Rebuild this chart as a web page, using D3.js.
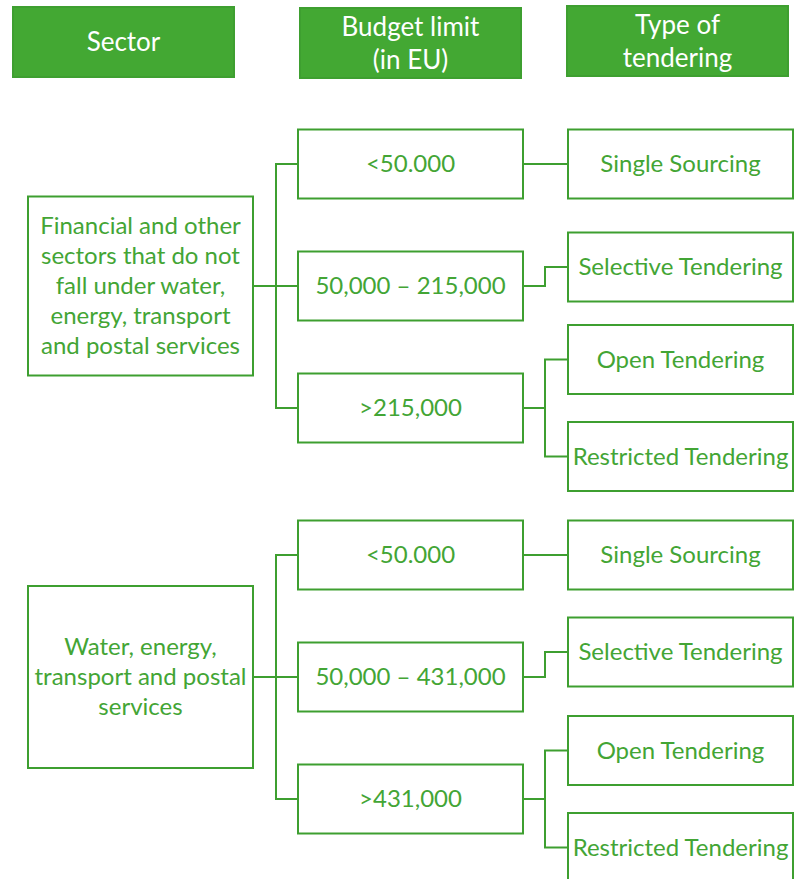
<!DOCTYPE html>
<html lang="en">
<head>
<meta charset="UTF-8">
<script src="https://cdn.jsdelivr.net/npm/d3@7"></script>
<style>
    body, html { margin: 0; padding: 0; background: #fff; }
</style>
</head>
<body>
<div id="chart"></div>
<script>
// data
const headers = [["Sector"], ["Budget limit", "(in EU)"], ["Type of", "tendering"]]
const sectors = [
    ["Financial and other", "sectors that do not", "fall under water,", "energy, transport", "and postal services"],
    ["Water, energy,", "transport and postal", "services"]
]
const budgets = [
    ["<50.000", "50,000 \u2013 215,000", ">215,000"],
    ["<50.000", "50,000 \u2013 431,000", ">431,000"]
]
const tenders = [
    [["Single Sourcing"], ["Selective  Tendering"], ["Open Tendering", "Restricted Tendering"]],
    [["Single Sourcing"], ["Selective  Tendering"], ["Open Tendering", "Restricted Tendering"]]
]

const W = 796, H = 879
const green = "#43a535", stroke = "#3e9f30"
const boxW = 225, boxH = 69, rowGap = 122, typeGap = 97

const svg = d3.select("#chart").append("svg").attr("width", W).attr("height", H)

// columns
const x = d3.scaleOrdinal().domain([0, 1, 2]).range([28, 298, 568])
const hx = d3.scaleOrdinal().domain([0, 1, 2]).range([13, 300, 567])
// section / row placement
const sectionY = d3.scaleLinear().domain([0, 1]).range([164, 555])
const rowY = (s, k) => sectionY(s) + k * rowGap
const nudge = [0, -19, 0]

const font = "Lato, 'Open Sans', sans-serif"

function box(g, x0, cy, h, lines, opt) {
    g.append("rect").attr("x", x0).attr("y", cy - h / 2).attr("width", opt.w || boxW).attr("height", h)
        .attr("fill", opt.fill || "#fff").attr("stroke", stroke).attr("stroke-width", 2)
    const lh = opt.lh || 30
    g.append("text").attr("text-anchor", "middle").attr("font-family", font)
        .attr("font-size", opt.size || 24).attr("fill", opt.color || green)
        .selectAll("tspan").data(lines).enter().append("tspan")
        .attr("x", x0 + (opt.w || boxW) / 2)
        .attr("y", (d, i) => cy + (i - (lines.length - 1) / 2) * lh)
        .attr("dy", "0.35em").text(d => d)
}

// headers
const hg = svg.append("g")
headers.forEach((lines, i) => {
    box(hg, hx(i), [42, 43, 41][i], 70, lines, { w: 221, fill: "#43a833", color: "#fff", size: 26, lh: 33 })
})

// connectors
const lg = svg.append("g").attr("fill", "none").attr("stroke", stroke).attr("stroke-width", 2)
const elbow = (x1, y1, xm, y2, x2) => `M${x1},${y1}H${xm}V${y2}H${x2}`

sectors.forEach((lines, s) => {
    const g = svg.append("g")
    const midY = rowY(s, 1)
    box(g, x(0), midY, s === 0 ? 179 : 182, lines, { lh: 30 })
    budgets[s].forEach((b, k) => {
        const cy = rowY(s, k)
        lg.append("path").attr("d", elbow(x(0) + boxW, midY, 276, cy, x(1)))
        box(g, x(1), cy, boxH, [b], {})
        const kids = tenders[s][k]
        kids.forEach((t, j) => {
            const ty = kids.length > 1 ? cy + (j - (kids.length - 1) / 2) * typeGap : cy + nudge[k] + (s === 1 && k === 1 ? -6 : 0)
            const path = ty === cy ? `M${x(1) + boxW},${cy}H${x(2)}` : elbow(x(1) + boxW, cy, 545, ty, x(2))
            lg.append("path").attr("d", path)
            box(g, x(2), ty, boxH, [t], {})
        })
    })
})
</script>
</body>
</html>
